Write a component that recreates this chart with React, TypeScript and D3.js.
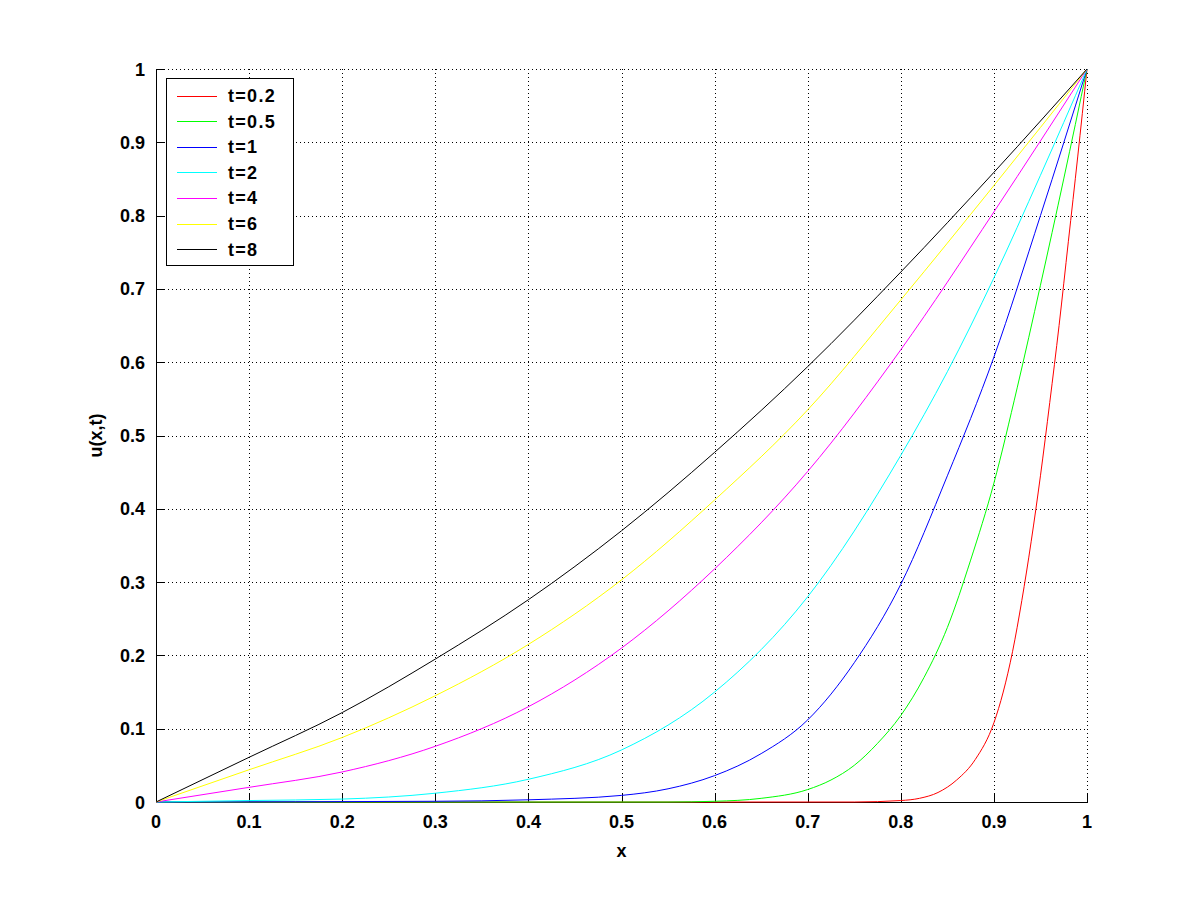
import React, { useEffect, useRef } from "react";
import * as d3 from "d3";

// ---- data ----
const xTicks = [0, 0.1, 0.2, 0.3, 0.4, 0.5, 0.6, 0.7, 0.8, 0.9, 1];
const yTicks = [0, 0.1, 0.2, 0.3, 0.4, 0.5, 0.6, 0.7, 0.8, 0.9, 1];
const tickLabels = ["0", "0.1", "0.2", "0.3", "0.4", "0.5", "0.6", "0.7", "0.8", "0.9", "1"];

const xT02 = [0, 0.75, 0.8, 0.82, 0.84, 0.86, 0.88, 0.9, 0.91, 0.92, 0.93, 0.94, 0.95, 0.96, 0.97, 0.98, 0.99, 1];
const uT02 = [0, 0, 0.002, 0.005, 0.013, 0.03, 0.058, 0.108, 0.15, 0.205, 0.275, 0.355, 0.445, 0.545, 0.65, 0.765, 0.88, 1];

const xT05 = [0, 0.55, 0.6, 0.65, 0.7, 0.725, 0.75, 0.775, 0.8, 0.825, 0.85, 0.875, 0.9, 0.925, 0.95, 0.975, 1];
const uT05 = [0, 0, 0.001, 0.005, 0.017, 0.03, 0.05, 0.08, 0.118, 0.17, 0.238, 0.33, 0.435, 0.565, 0.705, 0.85, 1];

const xT1 = [0, 0.3, 0.4, 0.5, 0.55, 0.6, 0.65, 0.7, 0.75, 0.8, 0.85, 0.9, 0.95, 1];
const uT1 = [0, 0.001, 0.003, 0.009, 0.018, 0.036, 0.066, 0.112, 0.19, 0.297, 0.445, 0.607, 0.8, 1];

const xT2 = [0, 0.1, 0.2, 0.3, 0.4, 0.5, 0.6, 0.7, 0.8, 0.85, 0.9, 0.95, 1];
const uT2 = [0, 0.002, 0.004, 0.012, 0.031, 0.071, 0.15, 0.28, 0.473, 0.587, 0.715, 0.855, 1];

const xT4 = [0, 0.1, 0.2, 0.3, 0.4, 0.5, 0.6, 0.7, 0.8, 0.9, 1];
const uT4 = [0, 0.02, 0.041, 0.076, 0.13, 0.21, 0.318, 0.451, 0.617, 0.805, 1];

const xT6 = [0, 0.1, 0.2, 0.3, 0.4, 0.5, 0.6, 0.7, 0.8, 0.9, 1];
const uT6 = [0, 0.044, 0.088, 0.145, 0.215, 0.303, 0.412, 0.535, 0.685, 0.841, 1];

const xT8 = [0, 0.1, 0.2, 0.3, 0.4, 0.5, 0.6, 0.7, 0.8, 0.9, 1];
const uT8 = [0, 0.061, 0.122, 0.195, 0.276, 0.37, 0.477, 0.594, 0.723, 0.859, 1];

const seriesNames = ["t=0.2", "t=0.5", "t=1", "t=2", "t=4", "t=6", "t=8"];
const seriesColors = ["#ff0000", "#00ff00", "#0000ff", "#00ffff", "#ff00ff", "#ffff00", "#000000"];
const seriesX = [xT02, xT05, xT1, xT2, xT4, xT6, xT8];
const seriesU = [uT02, uT05, uT1, uT2, uT4, uT6, uT8];

const FONT = "'Liberation Sans', Arial, Helvetica, sans-serif";

export default function App() {
  const ref = useRef<SVGSVGElement | null>(null);

  useEffect(() => {
    const svg = d3.select(ref.current);
    svg.selectAll("*").remove();

    const left = 156, right = 1087, top = 69, bottom = 802;
    const x = d3.scaleLinear().domain([0, 1]).range([left, right]);
    const y = d3.scaleLinear().domain([0, 1]).range([bottom, top]);

    svg.append("rect").attr("width", 1200).attr("height", 901).attr("fill", "#fff");

    // grid
    const g = svg.append("g");
    xTicks.slice(1).forEach((t) => {
      g.append("line")
        .attr("x1", Math.round(x(t)) + 0.5).attr("x2", Math.round(x(t)) + 0.5)
        .attr("y1", top).attr("y2", bottom)
        .attr("stroke", "#000").attr("stroke-width", 1).attr("stroke-dasharray", "1,3");
    });
    yTicks.slice(1).forEach((t) => {
      g.append("line")
        .attr("y1", Math.round(y(t)) + 0.5).attr("y2", Math.round(y(t)) + 0.5)
        .attr("x1", left).attr("x2", right)
        .attr("stroke", "#000").attr("stroke-width", 1).attr("stroke-dasharray", "1,3");
    });

    // axis lines
    g.append("line").attr("x1", left + 0.5).attr("x2", left + 0.5).attr("y1", top).attr("y2", bottom + 0.5)
      .attr("stroke", "#000");
    g.append("line").attr("x1", left).attr("x2", right + 1).attr("y1", bottom + 0.5).attr("y2", bottom + 0.5)
      .attr("stroke", "#000");

    // ticks (inward)
    const tl = 9;
    xTicks.forEach((t, i) => {
      const px = Math.round(x(t)) + 0.5;
      g.append("line").attr("x1", px).attr("x2", px).attr("y1", bottom).attr("y2", bottom - tl).attr("stroke", "#000");
      g.append("text").attr("x", x(t)).attr("y", 828).attr("text-anchor", "middle")
        .attr("font-family", FONT).attr("font-weight", "bold").attr("font-size", 18).text(tickLabels[i]);
    });
    yTicks.forEach((t, i) => {
      const py = Math.round(y(t)) + 0.5;
      g.append("line").attr("x1", left).attr("x2", left + tl).attr("y1", py).attr("y2", py).attr("stroke", "#000");
      g.append("text").attr("x", 145).attr("y", y(t) + 6.5).attr("text-anchor", "end")
        .attr("font-family", FONT).attr("font-weight", "bold").attr("font-size", 18).text(tickLabels[i]);
    });

    // axis labels
    svg.append("text").attr("x", (left + right) / 2).attr("y", 857).attr("text-anchor", "middle")
      .attr("font-family", FONT).attr("font-weight", "bold").attr("font-size", 18).text("x");
    svg.append("text").attr("transform", `translate(102,${(top + bottom) / 2}) rotate(-90)`)
      .attr("text-anchor", "middle")
      .attr("font-family", FONT).attr("font-weight", "bold").attr("font-size", 18).text("u(x,t)");

    // curves
    const line = d3.line<[number, number]>()
      .x((d) => x(d[0])).y((d) => y(d[1]))
      .curve(d3.curveMonotoneX);
    seriesX.forEach((xs, si) => {
      const pts = xs.map((v, i) => [v, seriesU[si][i]] as [number, number]);
      svg.append("path").attr("d", line(pts) as string)
        .attr("fill", "none").attr("stroke", seriesColors[si]).attr("stroke-width", 1);
    });

    // legend
    const lg = svg.append("g");
    lg.append("rect").attr("x", 166.5).attr("y", 78.5).attr("width", 127).attr("height", 187)
      .attr("fill", "#fff").attr("stroke", "#000");
    seriesNames.forEach((nm, i) => {
      const ly = 95.5 + i * 25.6;
      lg.append("line").attr("x1", 177).attr("x2", 217).attr("y1", Math.round(ly) + 0.5).attr("y2", Math.round(ly) + 0.5)
        .attr("stroke", seriesColors[i]);
      lg.append("text").attr("x", 228).attr("y", ly + 6.5)
        .attr("font-family", FONT).attr("font-weight", "bold").attr("font-size", 18)
        .attr("letter-spacing", 1.3).text(nm);
    });
  }, []);

  return (
    <svg ref={ref} width={1200} height={901}
      style={{ position: "absolute", left: 0, top: 0, display: "block" }} />
  );
}
